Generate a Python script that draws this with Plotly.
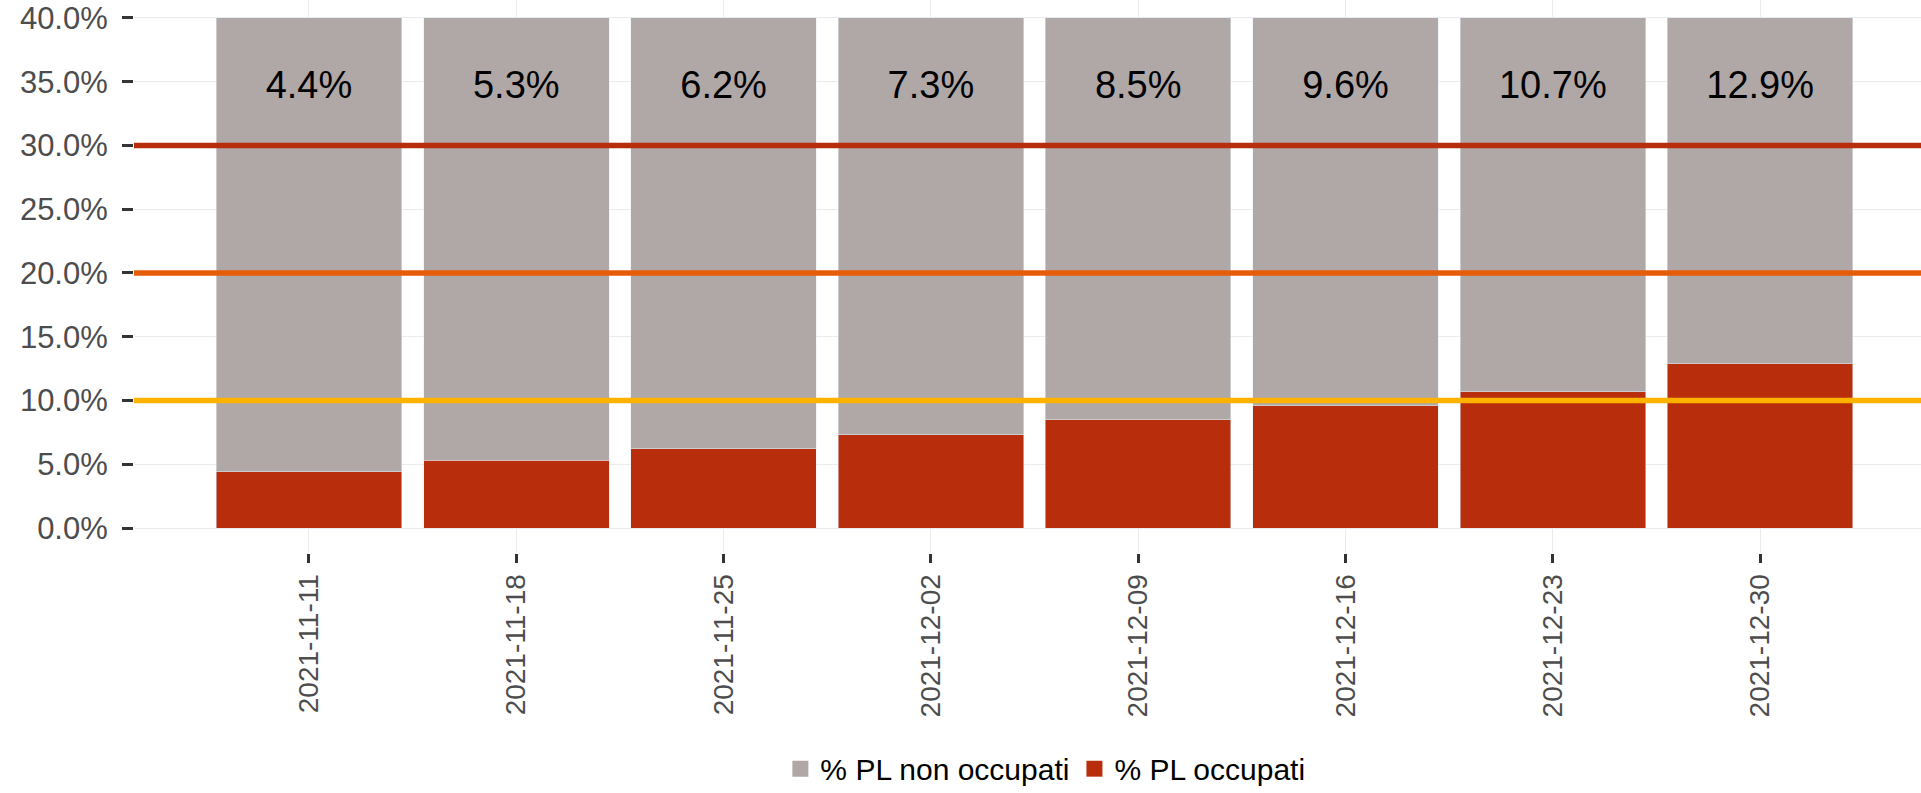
import plotly.graph_objects as go

# ---- data ----
dates = ["2021-11-11", "2021-11-18", "2021-11-25", "2021-12-02",
         "2021-12-09", "2021-12-16", "2021-12-23", "2021-12-30"]
occupati = [0.044, 0.053, 0.062, 0.073, 0.085, 0.096, 0.107, 0.129]
y_cap = 0.40  # bars are shown up to the 40% axis limit
non_occupati_shown = [y_cap - v for v in occupati]
thresholds = [0.30, 0.20, 0.10]
threshold_colors = ["#B82E0D", "#E65C08", "#FFB300"]
y_ticks = [0, 0.05, 0.10, 0.15, 0.20, 0.25, 0.30, 0.35, 0.40]
label_y = 0.345

GRAY = "#B0A8A7"
RED = "#B82E0D"
FONT = "Liberation Sans, Arial, sans-serif"

fig = go.Figure()
fig.add_trace(go.Bar(x=dates, y=occupati, marker_color=RED, showlegend=False,
                     name="% PL occupati"))
fig.add_trace(go.Bar(x=dates, y=non_occupati_shown, marker_color=GRAY, showlegend=False,
                     name="% PL non occupati"))

# legend entries
fig.add_trace(go.Scatter(x=[None], y=[None], mode="markers", name="% PL non occupati",
                         marker=dict(symbol="square", size=16, color=GRAY)))
fig.add_trace(go.Scatter(x=[None], y=[None], mode="markers", name="% PL occupati",
                         marker=dict(symbol="square", size=16, color=RED)))

# labels
fig.add_trace(go.Scatter(x=dates, y=[label_y] * len(dates), mode="text",
                         text=[f"{v*100:.1f}%" for v in occupati],
                         textfont=dict(size=38, color="black", family=FONT),
                         showlegend=False, hoverinfo="skip"))

for t, c in zip(thresholds, threshold_colors):
    fig.add_shape(type="line", xref="paper", x0=0, x1=1, yref="y", y0=t, y1=t,
                  line=dict(color=c, width=5.5), layer="above")

fig.update_layout(
    width=1921, height=793,
    barmode="stack", bargap=0.105,
    plot_bgcolor="white", paper_bgcolor="white",
    margin=dict(l=134, r=0, t=0, b=240, autoexpand=False),
    font=dict(family=FONT),
    legend=dict(orientation="h", x=0.51, xanchor="center", y=-0.39, yanchor="middle",
                font=dict(size=30, color="black", family=FONT),
                traceorder="normal"),
)
fig.update_xaxes(type="category", range=[-0.844, 7.776], automargin=False,
                 showgrid=True, gridcolor="#EBEBEB", gridwidth=1,
                 ticks="outside", ticklen=9, tickwidth=3, tickcolor="#333333",
                 tickangle=-90, tickfont=dict(size=28, color="#4D4D4D", family=FONT),
                 showline=False, zeroline=False)
fig.update_yaxes(range=[-0.0196, 0.4141], tickvals=y_ticks, tickformat=".1%",
                 automargin=False,
                 showgrid=True, gridcolor="#EBEBEB", gridwidth=1,
                 ticks="outside", ticklen=11, tickwidth=3, tickcolor="#333333",
                 tickfont=dict(size=31, color="#4D4D4D", family=FONT),
                 ticklabelstandoff=8,
                 showline=False, zeroline=False)

fig.write_html("out.html", config={"displayModeBar": False},
               post_script="document.body.style.margin='0';document.body.style.overflow='hidden';")
